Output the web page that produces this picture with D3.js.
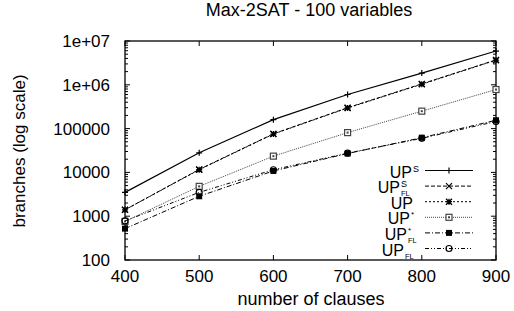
<!DOCTYPE html>
<html><head><meta charset="utf-8">
<script src="https://cdn.jsdelivr.net/npm/d3@7"></script>
<style>body{margin:0;background:#fff}svg{display:block}text{font-family:"Liberation Sans",Arial,sans-serif;fill:#000}</style>
</head><body><svg id="c" width="514" height="311"></svg>
<script>
const clauses = [400, 500, 600, 700, 800, 900];
const upS     = [3500, 28000, 160000, 600000, 1850000, 5900000];
const upSFL   = [1400, 11700, 76000, 300000, 1050000, 3700000];
const up      = [1400, 11500, 75000, 295000, 1030000, 3650000];
const upStar  = [760, 4800, 23500, 81000, 250000, 780000];
const upStarFL= [520, 2850, 10800, 27000, 62000, 155000];
const upFL    = [780, 3500, 11500, 27500, 60000, 145000];
const xTicks = [400, 500, 600, 700, 800, 900];
const yTicks = [100, 1000, 10000, 100000, 1000000, 10000000];
const yTickLabels = ["100", "1000", "10000", "100000", "1e+06", "1e+07"];
const seriesNames = [["UP","S",""],["UP","S","FL"],["UP","",""],["UP","*",""],["UP","*","FL"],["UP","","FL"]];

const series = [
  {vals: upS, dash: null, marker: "plus", w:1.2},
  {vals: upSFL, dash: "4,2", marker: "cross"},
  {vals: up, dash: "2,2", marker: "star"},
  {vals: upStar, dash: "1,1", marker: "boxdot", color:"#444"},
  {vals: upStarFL, dash: "5,2,1,2", marker: "fbox"},
  {vals: upFL, dash: "4,2,1,2,1,2", marker: "circle"}
];

const svg = d3.select("#c");
const L=125, R=496, T=41, B=260;
const x = d3.scaleLinear().domain([400,900]).range([L,R]);
const y = d3.scaleLog().domain([100,1e7]).range([B,T]);

svg.append("text").attr("x",309).attr("y",16).attr("text-anchor","middle").attr("font-size",18).text("Max-2SAT - 100 variables");

svg.append("rect").attr("x",L).attr("y",T).attr("width",R-L).attr("height",B-T).attr("fill","none").attr("stroke","#000").attr("stroke-width",1.3);

const g = svg.append("g");
xTicks.forEach(v=>{
  const px = x(v);
  g.append("line").attr("x1",px).attr("x2",px).attr("y1",B).attr("y2",B-5).attr("stroke","#000");
  g.append("line").attr("x1",px).attr("x2",px).attr("y1",T).attr("y2",T+5).attr("stroke","#000");
  svg.append("text").attr("x",px).attr("y",282).attr("text-anchor","middle").attr("font-size",17).text(v);
});
yTicks.forEach((v,i)=>{
  const py = y(v);
  g.append("line").attr("x1",L).attr("x2",L+5).attr("y1",py).attr("y2",py).attr("stroke","#000");
  g.append("line").attr("x1",R).attr("x2",R-5).attr("y1",py).attr("y2",py).attr("stroke","#000");
  svg.append("text").attr("x",110).attr("y",py+6).attr("text-anchor","end").attr("font-size",17).text(yTickLabels[i]);
  if (v < 1e7) {
    for (let k=2;k<=9;k++){
      const pm = y(v*k);
      g.append("line").attr("x1",L).attr("x2",L+3).attr("y1",pm).attr("y2",pm).attr("stroke","#000");
      g.append("line").attr("x1",R).attr("x2",R-3).attr("y1",pm).attr("y2",pm).attr("stroke","#000");
    }
  }
});

svg.append("text").attr("x",311).attr("y",305).attr("text-anchor","middle").attr("font-size",18).text("number of clauses");
svg.append("text").attr("transform","translate(25,151) rotate(-90)").attr("text-anchor","middle").attr("font-size",17).text("branches (log scale)");

function marker(sel, type, cx, cy, color){
  const s=3;
  if(type==="plus"){
    sel.append("path").attr("d",`M${cx-s},${cy}H${cx+s}M${cx},${cy-s}V${cy+s}`).attr("stroke",color).attr("stroke-width",1.2);
  } else if(type==="cross"){
    sel.append("path").attr("d",`M${cx-s},${cy-s}L${cx+s},${cy+s}M${cx-s},${cy+s}L${cx+s},${cy-s}`).attr("stroke",color).attr("stroke-width",1.2);
  } else if(type==="star"){
    sel.append("path").attr("d",`M${cx-s},${cy-s}L${cx+s},${cy+s}M${cx-s},${cy+s}L${cx+s},${cy-s}M${cx-s},${cy}H${cx+s}M${cx},${cy-s}V${cy+s}`).attr("stroke",color).attr("stroke-width",1.3);
  } else if(type==="boxdot"){
    sel.append("rect").attr("x",cx-s).attr("y",cy-s).attr("width",2*s).attr("height",2*s).attr("fill","#fff").attr("stroke",color).attr("stroke-width",1.2);
    sel.append("rect").attr("x",cx-1).attr("y",cy-1).attr("width",2).attr("height",2).attr("fill",color);
  } else if(type==="fbox"){
    sel.append("rect").attr("x",cx-s).attr("y",cy-s).attr("width",2*s).attr("height",2*s).attr("fill",color);
  } else if(type==="circle"){
    sel.append("circle").attr("cx",cx).attr("cy",cy).attr("r",s).attr("fill","none").attr("stroke",color).attr("stroke-width",1.2);
  }
}

const line = d3.line().x(d=>x(d[0])).y(d=>y(d[1]));
series.forEach(s=>{
  const col = s.color||"#000";
  const data = clauses.map((c,i)=>[c,s.vals[i]]);
  svg.append("path").datum(data).attr("d",line).attr("fill","none").attr("stroke",col).attr("stroke-width",s.w||1).attr("stroke-dasharray",s.dash);
  data.forEach(d=>marker(svg, s.marker, x(d[0]), y(d[1]), col));
});

// legend
const legY0=170.5, legDy=15.6;
const upRight = [412, 400, 413, 410, 407, 404];
series.forEach((s,i)=>{
  const col = s.color||"#000";
  const ly = legY0 + i*legDy;
  svg.append("line").attr("x1",425).attr("x2",473).attr("y1",ly).attr("y2",ly).attr("stroke",col).attr("stroke-width",s.w||1).attr("stroke-dasharray",s.dash);
  marker(svg, s.marker, 449, ly, col);
  const [base, sup, sub] = seriesNames[i];
  const ux = upRight[i];
  svg.append("text").attr("x",ux).attr("y",ly+7).attr("text-anchor","end").attr("font-size",16).text(base);
  if (sup) svg.append("text").attr("x",ux+1).attr("y",ly+(sup==="*"?0:1)).attr("font-size",sup==="*"?8:9).text(sup);
  if (sub) svg.append("text").attr("x",ux+1).attr("y",ly+10).attr("font-size",7.5).text(sub);
});
</script></body></html>
